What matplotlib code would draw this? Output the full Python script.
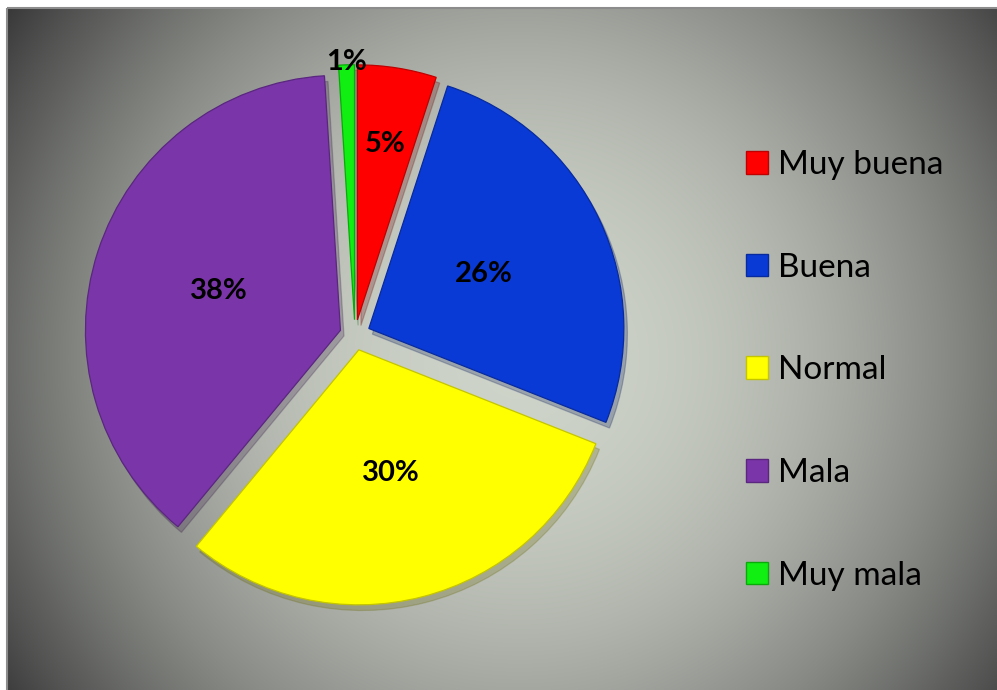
import matplotlib.pyplot as plt
import numpy as np
from matplotlib.patches import Patch, Rectangle

categorias = ['Muy buena', 'Buena', 'Normal', 'Mala', 'Muy mala']
porcentajes = [5, 26, 30, 38, 1]
colores = ['#ff0000', '#0a3ad6', '#ffff00', '#7a36a8', '#11ee11']
bordes = ['#c00000', '#072a9e', '#c4c400', '#5a2680', '#0aaa0a']

# distancia de cada etiqueta desde el centro de la porcion
dist_etiqueta = [0.70, 0.50, 0.50, 0.50, 1.01]

W, H = 997, 690
fig = plt.figure(figsize=(W / 100, H / 100), dpi=100)

# fondo con degradado radial
bg = fig.add_axes([0, 0, 1, 1])
bg.set_xlim(0, W)
bg.set_ylim(H, 0)
bg.axis('off')
yy, xx = np.mgrid[0:H, 0:W]
cx, cy = 515, 355
t = (np.hypot(xx - cx, yy - cy) / 600.0) ** 2
t = np.clip(t, 0, 1.1)
c0 = np.array([0.81, 0.83, 0.79])
c1 = np.array([0.27, 0.27, 0.27])
img = np.clip(c0[None, None, :] * (1 - t[..., None]) + c1[None, None, :] * t[..., None], 0, 1)
bg.imshow(img, extent=(7, W, H, 8), aspect='auto', zorder=0)
bg.add_patch(Rectangle((7, 8), W, H, fill=False, edgecolor='#8c8c8c', lw=1.5, zorder=1))

# pastel
px = 255.0
cxp, cyp = 355, 335
lim = 1.3
ax = fig.add_axes([(cxp - lim * px) / W, 1 - (cyp + lim * px) / H,
                   2 * lim * px / W, 2 * lim * px / H])
ax.patch.set_alpha(0)
wedges, _ = ax.pie(porcentajes, colors=colores, startangle=90, counterclock=False,
                   explode=[0.06] * len(porcentajes), radius=1,
                   wedgeprops=dict(linewidth=0.9),
                   shadow=dict(ox=0.01, oy=-0.016, shade=0.6, alpha=0.25))
for w, b in zip(wedges, bordes):
    w.set_edgecolor(b)
ax.set_xlim(-lim, lim)
ax.set_ylim(-lim, lim)
ax.set_aspect('equal', adjustable='box')

for w, p, d in zip(wedges, porcentajes, dist_etiqueta):
    ang = np.deg2rad((w.theta1 + w.theta2) / 2)
    x0, y0 = w.center
    ax.text(x0 + d * np.cos(ang), y0 + d * np.sin(ang), f'{p}%',
            ha='center', va='center', fontsize=21, fontweight='bold',
            family='Lato', color='black')

handles = [Patch(facecolor=c, edgecolor=b, linewidth=1) for c, b in zip(colores, bordes)]
fig.legend(handles, categorias, loc='upper left', bbox_to_anchor=(746 / W, 1 - 150 / H),
           frameon=False, prop=dict(family='Lato', size=24),
           handlelength=0.66, handleheight=0.66, handletextpad=0.3,
           labelspacing=2.18, borderpad=0, borderaxespad=0)

fig.savefig('out.png', dpi=100)
